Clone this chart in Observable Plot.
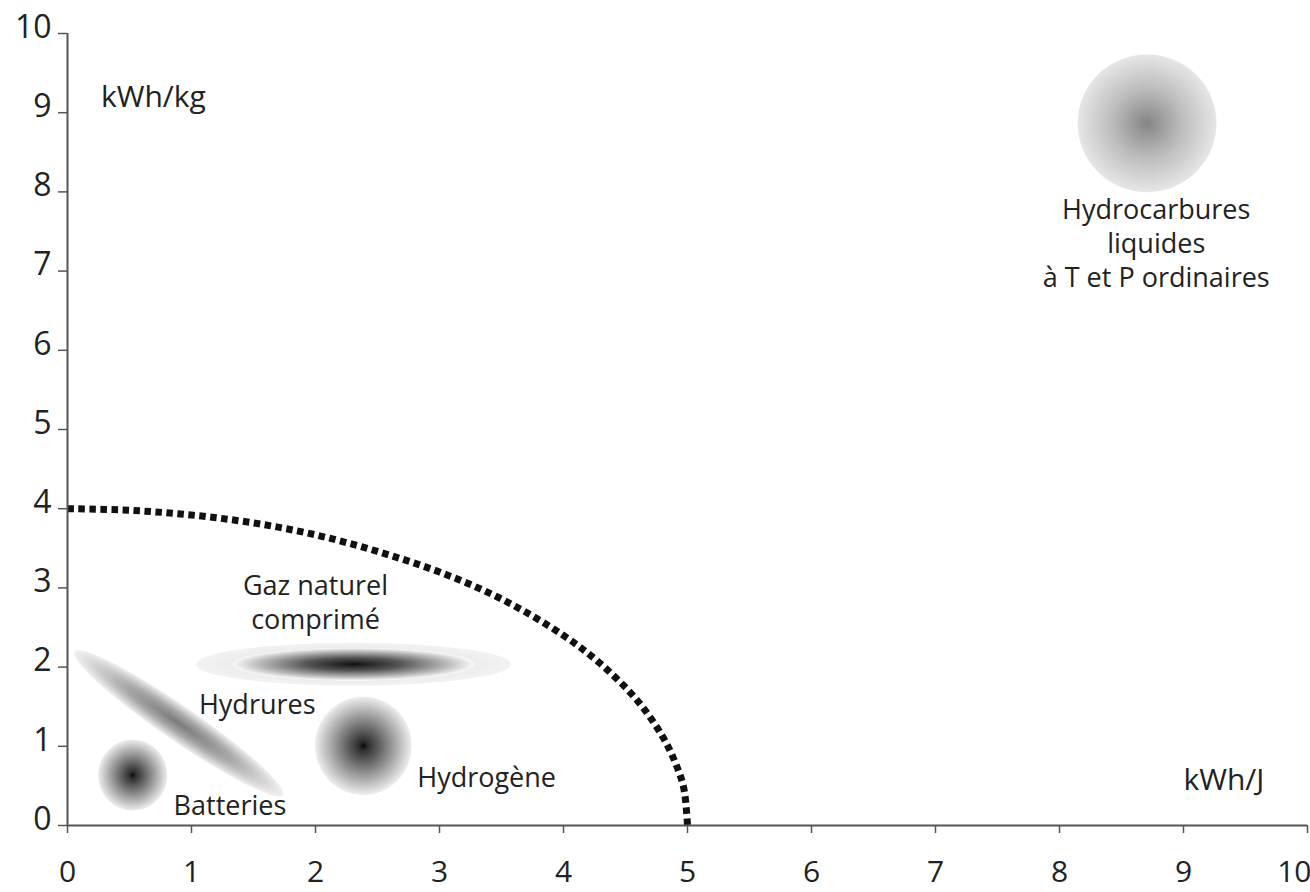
<!DOCTYPE html>
<html><head><meta charset="utf-8">
<script src="https://cdn.jsdelivr.net/npm/d3@7"></script>
<script src="https://cdn.jsdelivr.net/npm/@observablehq/plot@0.6"></script>
<style>
body{margin:0;background:#fff;}
#chart svg{font-family:"Open Sans",sans-serif;}
</style>
</head><body><div id="chart"></div>
<script>
// ---- data ----
const xTicks = [0,1,2,3,4,5,6,7,8,9,10];
const yTicks = [0,1,2,3,4,5,6,7,8,9,10];

const blobNames = ["Batteries","Hydrogène","Gaz naturel comprimé","Hydrocarbures"];
const blobX  = [0.53, 2.39, 2.31, 8.71];
const blobY  = [0.63, 1.00, 2.03, 8.86];
const blobRx = [0.28, 0.39, 1.27, 0.56];
const blobRy = [0.45, 0.62, 0.27, 0.87];

// Hydrures: elongated tilted zone, read from its two ends
const hydruresX = [0.06, 1.74];
const hydruresY = [2.19, 0.38];
const hydruresHalfWidth = 0.14;

// dashed limit curve
const limitX = [0, 0.5, 1, 1.5, 2, 2.5, 3, 3.5, 4, 4.3, 4.6, 4.8, 4.9, 4.97, 5];
const limitY = [4, 3.98, 3.92, 3.82, 3.67, 3.46, 3.2, 2.86, 2.4, 2.04, 1.57, 1.12, 0.8, 0.47, 0];

const zoneLabels = ["Gaz naturel\ncomprimé", "Hydrures", "Hydrogène", "Batteries", "Hydrocarbures\nliquides\nà T et P ordinaires"];
const zoneLabelX = [2.0, 1.53, 3.38, 1.31, 8.78];
const zoneLabelY = [2.83, 1.54, 0.62, 0.27, 7.37];

const unitLabels = ["kWh/kg", "kWh/J"];
const unitLabelX = [0.27, 9.0];
const unitLabelY = [9.19, 0.57];

// ---- styles ----
const gradStops = {
  "Batteries": [[0,"#0a0a0a"],[0.1,"#303030"],[0.5,"#858585"],[1,"#eeeeee"]],
  "Hydrogène": [[0,"#0a0a0a"],[0.1,"#303030"],[0.5,"#858585"],[1,"#eeeeee"]],
  "Gaz naturel comprimé": [[0,"#111"],[0.3,"#555"],[0.6,"#bbb"],[0.76,"#f6f6f6"],[0.78,"#ededed"],[1,"#f2f2f2"]],
  "Hydrocarbures": [[0,"#858585"],[0.5,"#bcbcbc"],[1,"#e6e6e6"]],
  "Hydrures": [[0,"#7a7a7a"],[0.5,"#a8a8a8"],[1,"#f0f0f0"]]
};

const limit = limitX.map((x,i)=>({x, y: limitY[i]}));
const zones = zoneLabels.map((t,i)=>({t, x: zoneLabelX[i], y: zoneLabelY[i]}));
const units = unitLabels.map((t,i)=>({t, x: unitLabelX[i], y: unitLabelY[i]}));
const lastX = xTicks[xTicks.length - 1];

function blobMark(index, scales) {
  const {x, y} = scales;
  const g = d3.create("svg:g");
  const defs = g.append("defs");
  function grad(id, stops) {
    const rg = defs.append("radialGradient").attr("id", id);
    for (const [o,c] of stops) rg.append("stop").attr("offset", o).attr("stop-color", c);
  }
  blobNames.forEach((n,i)=>{
    const id = "blobgrad" + i;
    grad(id, gradStops[n]);
    const cx = x(blobX[i]), cy = y(blobY[i]);
    const rx = x(blobX[i] + blobRx[i]) - cx;
    const ry = cy - y(blobY[i] + blobRy[i]);
    g.append("ellipse").attr("cx", cx).attr("cy", cy).attr("rx", rx).attr("ry", ry).attr("fill", `url(#${id})`);
  });
  grad("blobgradH", gradStops["Hydrures"]);
  const x1 = x(hydruresX[0]), y1 = y(hydruresY[0]), x2 = x(hydruresX[1]), y2 = y(hydruresY[1]);
  const mx = (x1+x2)/2, my = (y1+y2)/2;
  const len = Math.hypot(x2-x1, y2-y1)/2;
  const ang = Math.atan2(y2-y1, x2-x1) * 180 / Math.PI;
  const w = x(hydruresHalfWidth) - x(0);
  g.append("ellipse").attr("cx", 0).attr("cy", 0).attr("rx", len).attr("ry", w)
    .attr("transform", `translate(${mx},${my}) rotate(${ang})`).attr("fill", "url(#blobgradH)");
  return g.node();
}

const chart = Plot.plot({
  width: 1310, height: 892,
  marginLeft: 67, marginRight: 3, marginTop: 33, marginBottom: 67,
  x: {domain: [0,10]},
  y: {domain: [0,10]},
  style: {fontFamily: "Open Sans, sans-serif", color: "#222", background: "#fff"},
  marks: [
    blobMark,
    Plot.line(limit, {x: "x", y: "y", curve: "catmull-rom", stroke: "#111", strokeWidth: 7, strokeDasharray: "6.5 4.5", strokeLinecap: "butt"}),
    Plot.ruleX([0], {y1: 0, y2: 10, stroke: "#555", strokeWidth: 2}),
    Plot.ruleY([0], {x1: 0, x2: 10, stroke: "#555", strokeWidth: 2}),
    // y ticks and labels
    Plot.axisY({ticks: yTicks, tickSize: 9, text: null, stroke: "#555", strokeWidth: 1.5, label: null}),
    Plot.axisY({ticks: yTicks, tickSize: 0, tickPadding: 16, dy: -6, fontSize: 32, fill: "#222", label: null, tickFormat: d => String(d)}),
    // x ticks and labels
    Plot.axisX({ticks: xTicks, tickSize: 8, text: null, stroke: "#555", strokeWidth: 1.5, label: null}),
    Plot.axisX({ticks: xTicks.filter(d => d !== lastX), tickSize: 0, tickPadding: 35, fontSize: 30, fill: "#222", label: null, tickFormat: d => String(d)}),
    Plot.axisX({ticks: [lastX], tickSize: 0, tickPadding: 35, fontSize: 30, fill: "#222", textAnchor: "end", dx: 4, label: null, tickFormat: d => String(d)}),
    Plot.text(zones, {x: "x", y: "y", text: "t", fontSize: 27, lineHeight: 1.26, fill: "#222", textAnchor: "middle"}),
    Plot.text(units, {x: "x", y: "y", text: "t", fontSize: 30, fill: "#222", textAnchor: "start"})
  ]
});
document.getElementById("chart").appendChild(chart);
</script>
</body></html>
